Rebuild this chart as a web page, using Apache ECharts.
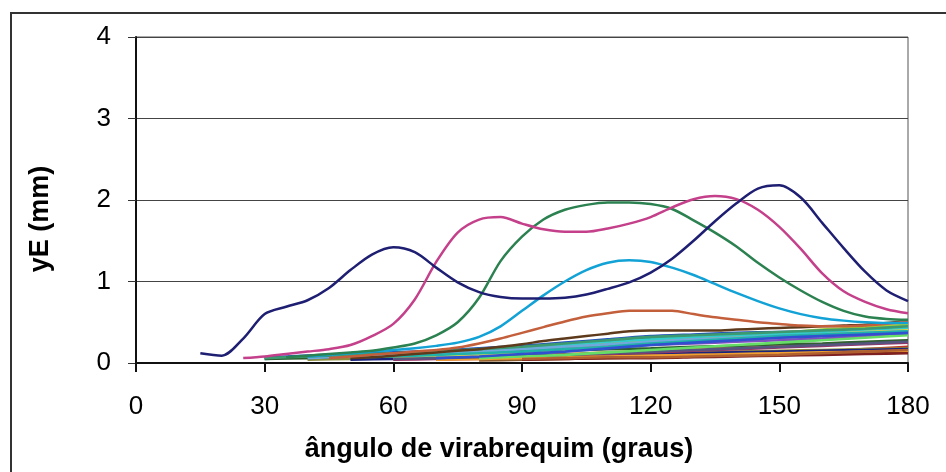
<!DOCTYPE html>
<html>
<head>
<meta charset="utf-8">
<script src="https://cdn.jsdelivr.net/npm/echarts@6/dist/echarts.min.js"></script>
<style>
  html, body { margin: 0; padding: 0; background: #ffffff; }
  #chart { width: 946px; height: 472px; }
</style>
</head>
<body>
<div id="chart"></div>
<script>
// Crank angle (degrees) for the large-lift curves
const anglesMain = [15,20,25,30,35,40,45,50,55,60,65,70,75,80,85,90,95,100,105,110,115,120,125,130,135,140,145,150,155,160,165,170,175,180];

// Displacement yE (mm) of the large-lift curves
const liftNavy    = [0.12,0.09,0.30,0.60,0.69,0.77,0.92,1.14,1.33,1.42,1.36,1.17,0.99,0.87,0.81,0.79,0.79,0.80,0.84,0.91,0.99,1.11,1.28,1.50,1.74,1.96,2.14,2.18,2.03,1.72,1.41,1.12,0.89,0.76];
const liftMagenta = [null,null,0.06,0.08,0.11,0.14,0.17,0.22,0.33,0.48,0.78,1.24,1.60,1.76,1.79,1.71,1.64,1.61,1.61,1.65,1.71,1.79,1.91,2.01,2.05,2.01,1.88,1.67,1.40,1.10,0.88,0.75,0.66,0.61];
const liftGreen   = [null,null,null,null,0.07,0.09,0.11,0.13,0.15,0.19,0.24,0.34,0.50,0.80,1.25,1.55,1.76,1.88,1.94,1.97,1.97,1.95,1.89,1.75,1.60,1.43,1.23,1.05,0.89,0.75,0.64,0.57,0.54,0.53];
const liftCyan    = [null,null,null,null,null,0.08,0.10,0.12,0.14,0.16,0.18,0.21,0.25,0.32,0.45,0.64,0.83,1.00,1.14,1.23,1.26,1.24,1.17,1.08,0.97,0.86,0.76,0.67,0.60,0.55,0.52,0.50,0.49,0.49];
const liftOrange  = [null,null,null,null,null,null,0.06,0.08,0.10,0.12,0.14,0.16,0.19,0.24,0.30,0.37,0.44,0.51,0.57,0.61,0.64,0.64,0.64,0.60,0.56,0.53,0.50,0.48,0.46,0.45,0.45,0.46,0.48,0.51];
const liftBrown   = [null,null,null,null,null,null,null,0.06,0.07,0.09,0.11,0.13,0.15,0.17,0.20,0.23,0.27,0.30,0.33,0.36,0.39,0.40,0.40,0.40,0.40,0.41,0.42,0.43,0.44,0.45,0.46,0.47,0.49,0.51];

// Crank angle (degrees) for the low-lift bundle
const anglesLow = [30,40,50,60,70,80,90,100,110,120,130,140,150,160,170,180];

// Displacement yE (mm) of the low-lift bundle
const low01 = [0.07,0.09,0.11,0.13,0.15,0.18,0.21,0.25,0.29,0.33,0.35,0.37,0.38,0.39,0.40,0.42];
const low02 = [0.06,0.08,0.10,0.12,0.14,0.16,0.19,0.23,0.27,0.31,0.33,0.35,0.37,0.39,0.41,0.44];
const low03 = [null,0.07,0.09,0.11,0.13,0.15,0.18,0.21,0.25,0.28,0.31,0.33,0.35,0.37,0.39,0.41];
const low04 = [null,null,0.08,0.10,0.12,0.14,0.17,0.20,0.24,0.27,0.30,0.33,0.37,0.41,0.44,0.47];
const low05 = [null,0.06,0.08,0.09,0.11,0.13,0.15,0.18,0.21,0.24,0.27,0.29,0.31,0.33,0.35,0.38];
const low06 = [null,null,0.06,0.07,0.09,0.11,0.13,0.16,0.19,0.22,0.24,0.26,0.28,0.30,0.33,0.35];
const low07 = [0.05,0.07,0.09,0.11,0.13,0.16,0.19,0.22,0.26,0.29,0.32,0.34,0.36,0.38,0.40,0.43];
const low08 = [null,null,null,0.05,0.06,0.08,0.09,0.11,0.13,0.15,0.17,0.19,0.21,0.23,0.25,0.27];
const low09 = [null,null,null,null,0.04,0.05,0.06,0.07,0.07,0.08,0.09,0.10,0.12,0.14,0.17,0.20];
const low10 = [null,0.04,0.05,0.06,0.07,0.08,0.09,0.10,0.11,0.12,0.13,0.14,0.15,0.16,0.17,0.18];
const low11 = [0.05,0.06,0.08,0.09,0.11,0.12,0.14,0.15,0.17,0.18,0.20,0.21,0.23,0.24,0.26,0.28];
const low12 = [null,null,0.04,0.05,0.06,0.07,0.08,0.09,0.10,0.11,0.12,0.13,0.14,0.15,0.16,0.17];
const low13 = [null,null,null,0.06,0.08,0.10,0.13,0.16,0.19,0.23,0.26,0.29,0.32,0.35,0.38,0.40];
const low14 = [null,null,null,null,null,0.03,0.04,0.05,0.06,0.07,0.08,0.09,0.10,0.11,0.12,0.13];
const low15 = [null,0.06,0.08,0.10,0.12,0.14,0.17,0.20,0.23,0.26,0.29,0.31,0.33,0.35,0.37,0.39];
const low16 = [null,null,null,0.04,0.05,0.07,0.08,0.10,0.11,0.13,0.15,0.17,0.19,0.21,0.23,0.25];
const low17 = [null,null,0.07,0.08,0.10,0.12,0.14,0.17,0.20,0.24,0.27,0.30,0.33,0.35,0.37,0.39];
const low18 = [null,null,null,null,0.04,0.05,0.06,0.07,0.08,0.09,0.10,0.11,0.12,0.13,0.14,0.15];
const low19 = [null,null,null,0.05,0.06,0.07,0.09,0.10,0.12,0.14,0.16,0.18,0.20,0.22,0.24,0.26];
const low20 = [null,null,null,null,null,0.06,0.08,0.10,0.13,0.16,0.19,0.22,0.25,0.28,0.31,0.34];
const low21 = [null,null,null,null,0.06,0.08,0.11,0.14,0.18,0.22,0.25,0.28,0.31,0.33,0.35,0.37];
const low22 = [null,null,null,null,null,null,0.04,0.05,0.06,0.06,0.07,0.08,0.09,0.10,0.11,0.12];
const low23 = [0.06,0.08,0.10,0.12,0.14,0.17,0.20,0.24,0.28,0.32,0.34,0.36,0.38,0.40,0.42,0.45];
const low24 = [null,null,null,null,null,null,0.05,0.06,0.07,0.07,0.08,0.09,0.10,0.12,0.14,0.16];

// Tick values
const xTicks = [0,30,60,90,120,150,180];
const yTicks = [0,1,2,3,4];

const FONT = "'Liberation Sans', Arial, sans-serif";

const mainCurves = [
  { v: liftNavy,    c: '#1e1e72' },
  { v: liftMagenta, c: '#c4408a' },
  { v: liftGreen,   c: '#2b8150' },
  { v: liftCyan,    c: '#12a2d6' },
  { v: liftOrange,  c: '#c45f3c' },
  { v: liftBrown,   c: '#5e3a1c' }
];

const lowCurves = [
  { v: low01, c: '#1f4fbf' }, { v: low02, c: '#008080' }, { v: low03, c: '#2e8b57' },
  { v: low04, c: '#a6cc33' }, { v: low05, c: '#cc6699' }, { v: low06, c: '#7f4fbf' },
  { v: low07, c: '#33cccc' }, { v: low08, c: '#e07b39' }, { v: low09, c: '#c0392b' },
  { v: low10, c: '#8c8c3c' }, { v: low11, c: '#2f5f2f' }, { v: low12, c: '#1a237e' },
  { v: low13, c: '#e6d84a' }, { v: low14, c: '#8b5a2b' }, { v: low15, c: '#6fa8dc' },
  { v: low16, c: '#993366' }, { v: low17, c: '#20b2aa' }, { v: low18, c: '#f0a030' },
  { v: low19, c: '#55557f' }, { v: low20, c: '#66dd66' }, { v: low21, c: '#3050d0' },
  { v: low22, c: '#7f1f1f' }, { v: low23, c: '#3d9970' }, { v: low24, c: '#b06030' }
];

function pairs(xs, ys) {
  return xs.map((x, i) => [x, ys[i]]);
}

const series = [];
lowCurves.forEach(s => series.push({
  type: 'line', data: pairs(anglesLow, s.v), showSymbol: false, smooth: 0.2,
  lineStyle: { color: s.c, width: 2.6 }, itemStyle: { color: s.c }, silent: true
}));
mainCurves.slice().reverse().forEach(s => series.push({
  type: 'line', data: pairs(anglesMain, s.v), showSymbol: false, smooth: 0.3,
  lineStyle: { color: s.c, width: 2.5 }, itemStyle: { color: s.c }, silent: true
}));

const chart = echarts.init(document.getElementById('chart'), null, { renderer: 'canvas' });
chart.setOption({
  animation: false,
  backgroundColor: '#ffffff',
  grid: {
    left: 136, top: 37, right: 38, bottom: 109,
    show: true, borderColor: '#555555', borderWidth: 1, backgroundColor: 'transparent'
  },
  xAxis: {
    type: 'value', min: xTicks[0], max: xTicks[xTicks.length - 1], interval: 30,
    axisLine: { show: true, onZero: false, lineStyle: { color: '#111111', width: 2 } },
    axisTick: { show: true, length: 9, lineStyle: { color: '#111111', width: 2 } },
    axisLabel: { color: '#000000', fontFamily: FONT, fontSize: 26, margin: 31 },
    splitLine: { show: false }
  },
  yAxis: {
    type: 'value', min: yTicks[0], max: yTicks[yTicks.length - 1], interval: 1,
    axisLine: { show: true, lineStyle: { color: '#111111', width: 2 } },
    axisTick: { show: true, length: 8, lineStyle: { color: '#333333', width: 1 } },
    axisLabel: { color: '#000000', fontFamily: FONT, fontSize: 26, margin: 25 },
    splitLine: { show: true, lineStyle: { color: '#444444', width: 1 } }
  },
  graphic: [
    {
      type: 'rect', shape: { x: 11, y: 13, width: 960, height: 480 },
      style: { fill: 'none', stroke: '#333333', lineWidth: 2 }, silent: true, z: -1
    },
    {
      type: 'text', x: 499, y: 450,
      style: { text: 'ângulo de virabrequim (graus)', font: 'bold 27px ' + FONT, fill: '#000000', align: 'center', verticalAlign: 'middle' }
    },
    {
      type: 'text', x: 41, y: 219, rotation: Math.PI / 2,
      style: { text: 'yE (mm)', font: 'bold 27px ' + FONT, fill: '#000000', align: 'center', verticalAlign: 'middle' }
    }
  ],
  series: series
});
</script>
</body>
</html>
